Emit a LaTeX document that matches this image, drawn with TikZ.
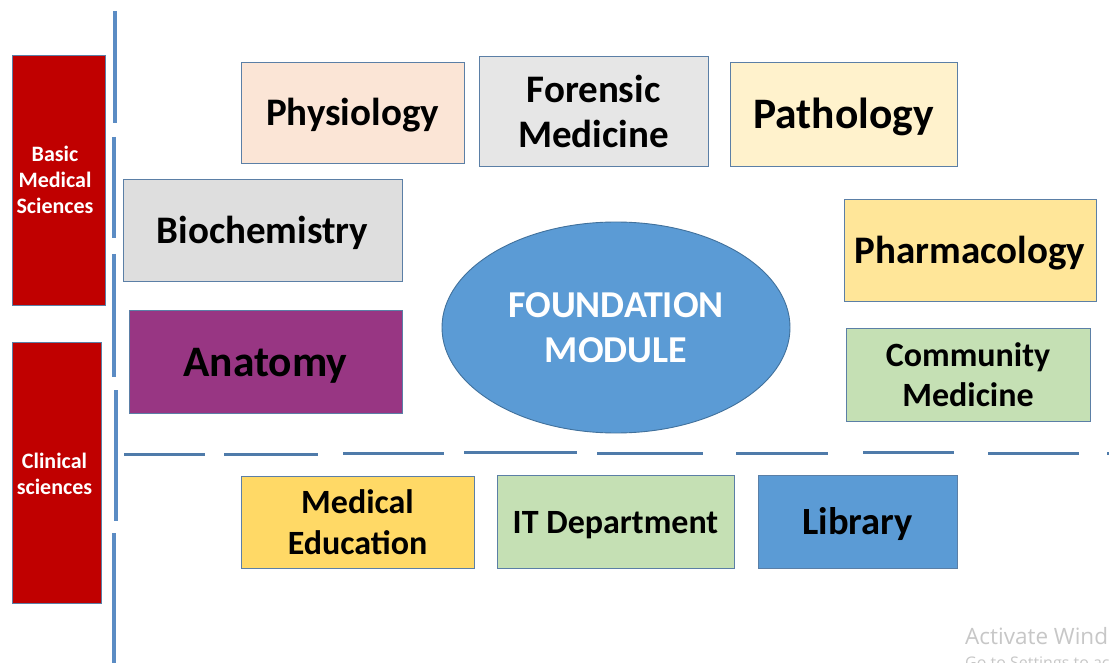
\documentclass[tikz,border=0pt]{standalone}
\usepackage{fontspec}
\setmainfont{Carlito}
\newfontfamily\wmfont{Open Sans}
\usetikzlibrary{shapes.geometric}
\definecolor{boxline}{HTML}{5B7FA6}
\definecolor{rulecol}{HTML}{5B8CC4}
\definecolor{dashcol}{HTML}{4F7BAA}
\definecolor{redbox}{HTML}{C00000}
\definecolor{peach}{HTML}{FBE5D6}
\definecolor{lightgray}{HTML}{E6E6E6}
\definecolor{midgray}{HTML}{DEDEDE}
\definecolor{paleyellow}{HTML}{FFF2CC}
\definecolor{gold}{HTML}{FFE699}
\definecolor{deepgold}{HTML}{FFD966}
\definecolor{palegreen}{HTML}{C5E0B4}
\definecolor{purplebox}{HTML}{983683}
\definecolor{skyblue}{HTML}{5B9BD5}
\definecolor{ellline}{HTML}{41719C}
% single-line label centred by its line box rather than its ink
\newcommand\midline[1]{\raisebox{-0.34em}[0pt][0pt]{#1}}
\begin{document}
\begin{tikzpicture}[x=1pt,y=-1pt,
  box/.style={draw=boxline, line width=0.9pt, inner sep=0pt, align=center,
    font=\bfseries\fontsize{39}{45}\selectfont},
  sidebox/.style={fill=redbox, draw=boxline, line width=0.8pt, inner sep=0pt},
  sidetext/.style={inner sep=0pt, align=center, text=white,
    font=\bfseries\fontsize{22}{26}\selectfont},
  rulebar/.style={draw=rulecol, line width=3.5pt},
  dashbar/.style={draw=dashcol, line width=3pt}]
\useasboundingbox (0,0) rectangle (1109,663);
\fill[white] (0,0) rectangle (1109,663);
\begin{scope}
\clip (0,0) rectangle (1109,663);

% side category boxes
\node[sidebox, minimum width=93, minimum height=250] (basic) at (58.5,180) {};
\node[sidetext] (basictxt) at (55,180) {Basic\\Medical\\Sciences};
\node[sidebox, minimum width=89, minimum height=261] (clin) at (56.5,472.5) {};
\node[sidetext] (clintxt) at (54.5,473.5) {Clinical\\sciences};

% broken vertical rule
\draw[rulebar] (115,11) -- (115,123);
\draw[rulebar] (114,137) -- (114,238);
\draw[rulebar] (114,254) -- (114,377);
\draw[rulebar] (116,390) -- (116,521);
\draw[rulebar] (114,533) -- (114,663);

% broken horizontal rule
\foreach \a/\b/\y in {124/205/454, 224/318/454, 343/444/453, 464/577/452,
                      597/703/453, 736/828/453, 863/954/452, 988/1079/453, 1107/1115/453}
  \draw[dashbar] (\a,\y) -- (\b,\y);

% subject boxes
\node[box, fill=peach, minimum width=223, minimum height=101] (phys) at (352.5,112.5) {\midline{Physiology}};
\node[box, fill=lightgray, minimum width=229, minimum height=110] (foren) at (593.5,111) {Forensic\\Medicine};
\node[box, fill=paleyellow, minimum width=227, minimum height=104, font=\bfseries\fontsize{43.5}{50}\selectfont] (path) at (843.5,114) {\midline{Pathology}};
\node[box, fill=midgray, minimum width=279, minimum height=102] (bioc) at (262.5,230) {\midline{Biochemistry}};
\node[box, fill=purplebox, minimum width=273, minimum height=103, font=\bfseries\fontsize{43.5}{50}\selectfont] (anat) at (265.5,361.5) {\midline{Anatomy}};
\node[box, fill=gold, minimum width=252, minimum height=102] (pharm) at (970,250) {\midline{Pharmacology}};
\node[box, fill=palegreen, minimum width=244, minimum height=93, font=\bfseries\fontsize{34}{40}\selectfont] (comm) at (968,374.5) {Community\\Medicine};

% central module
\node[ellipse, draw=ellline, line width=0.9pt, fill=skyblue, minimum width=348, minimum height=211,
  inner sep=0pt, align=center, text=white, font=\bfseries\fontsize{38}{45}\selectfont] (found) at (616,327.5) {FOUNDATION\\MODULE};

% support units
\node[box, fill=deepgold, minimum width=233, minimum height=92, font=\bfseries\fontsize{34}{41}\selectfont] (meded) at (357.5,522) {Medical\\Education};
\node[box, fill=palegreen, minimum width=237, minimum height=93, font=\bfseries\fontsize{34}{41}\selectfont] (itdep) at (615.5,521.5) {\midline{IT Department}};
\node[box, fill=skyblue, minimum width=199, minimum height=93, font=\bfseries\fontsize{38.5}{45}\selectfont] (lib) at (857.5,521.5) {\midline{Library}};

% system notice
\node[anchor=base west, inner sep=0pt, text=black!22, font=\wmfont\fontsize{22.5}{26}\selectfont] (wm1) at (965,644) {Activate Windows};
\node[anchor=base west, inner sep=0pt, text=black!22, font=\wmfont\fontsize{16}{19}\selectfont] (wm2) at (965,668) {Go to Settings to activate Windows.};
\end{scope}
\end{tikzpicture}
\end{document}
